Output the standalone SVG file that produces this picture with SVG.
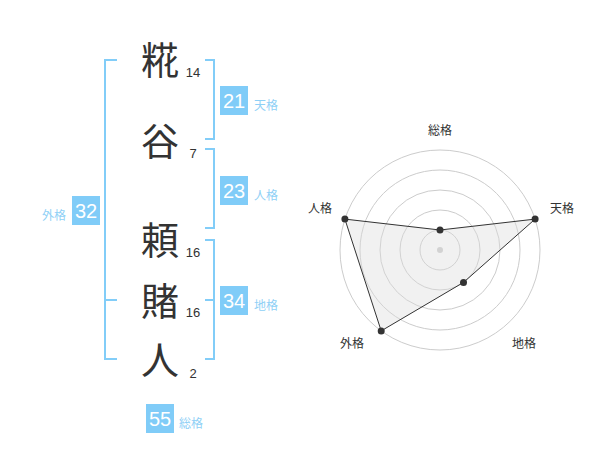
<svg xmlns="http://www.w3.org/2000/svg" width="600" height="470" viewBox="0 0 600 470">
<style>
.kanji{font-family:"Noto Sans CJK JP","Noto Sans CJK SC",sans-serif;font-size:38px;fill:#333;text-anchor:middle}
.num{font-family:"Liberation Sans",Arial,sans-serif;font-size:13px;fill:#333;text-anchor:middle}
.box{fill:#80ccf8}
.boxnum{font-family:"Liberation Sans",Arial,sans-serif;font-size:20px;fill:#fff;text-anchor:middle}
.lbl{font-family:"Noto Sans CJK JP",sans-serif;font-size:12px;fill:#8fd0f6}
.br{fill:none;stroke:#82cdf8;stroke-width:2}
.ring{fill:none;stroke:#cccccc;stroke-width:1}
.rl{font-family:"Noto Sans CJK JP",sans-serif;font-size:12px;fill:#333}
.pt{fill:#333}
</style>
<rect width="600" height="470" fill="#fff"/>
<g id="connectors">
<path class="br" d="M117,60 H105 V359 H117 M105,300 H117"/>
<path class="br" d="M205,60 H214 V139 H205"/>
<path class="br" d="M205,149 H214 V228 H205"/>
<path class="br" d="M205,240 H214 V359 H205 M214,300 H205"/>
</g>
<g id="char1"><text class="kanji" x="160" y="74">糀</text><text class="num" x="193" y="77">14</text></g>
<g id="char2"><text class="kanji" x="160" y="155">谷</text><text class="num" x="193" y="158">7</text></g>
<g id="char3"><text class="kanji" x="160" y="254">頼</text><text class="num" x="193" y="257">16</text></g>
<g id="char4"><text class="kanji" x="160" y="315">賭</text><text class="num" x="193" y="317">16</text></g>
<g id="char5"><text class="kanji" x="160" y="374">人</text><text class="num" x="193" y="378">2</text></g>
<g id="tenkaku"><rect class="box" x="220" y="86" width="28" height="29"/><text class="boxnum" x="234" y="108">21</text><text class="lbl" x="254" y="110">天格</text></g>
<g id="jinkaku"><rect class="box" x="220" y="176" width="28" height="29"/><text class="boxnum" x="234" y="198">23</text><text class="lbl" x="254" y="200">人格</text></g>
<g id="chikaku"><rect class="box" x="220" y="286" width="28" height="29"/><text class="boxnum" x="234" y="308">34</text><text class="lbl" x="254" y="310">地格</text></g>
<g id="gaikaku"><rect class="box" x="72" y="196" width="28" height="29"/><text class="boxnum" x="86" y="218">32</text><text class="lbl" x="66" y="220" text-anchor="end">外格</text></g>
<g id="soukaku"><rect class="box" x="146" y="404" width="28" height="29"/><text class="boxnum" x="160" y="426">55</text><text class="lbl" x="179" y="428">総格</text></g>
<g id="radar">
<circle class="ring" cx="440" cy="250" r="20"/>
<circle class="ring" cx="440" cy="250" r="40"/>
<circle class="ring" cx="440" cy="250" r="60"/>
<circle class="ring" cx="440" cy="250" r="80"/>
<circle class="ring" cx="440" cy="250" r="100"/>
<circle cx="440" cy="250" r="3" fill="#ccc"/>
<polygon points="440,230 535.1,219.1 463.5,282.4 381.2,330.9 344.9,219.1" fill="#dcdcdc" fill-opacity="0.4" stroke="#333" stroke-width="1"/>
<circle class="pt" cx="440" cy="230" r="3.5"/>
<circle class="pt" cx="535.1" cy="219.1" r="3.5"/>
<circle class="pt" cx="463.5" cy="282.4" r="3.5"/>
<circle class="pt" cx="381.2" cy="330.9" r="3.5"/>
<circle class="pt" cx="344.9" cy="219.1" r="3.5"/>
<text class="rl" x="440" y="135" text-anchor="middle">総格</text>
<text class="rl" x="550" y="213">天格</text>
<text class="rl" x="332" y="213" text-anchor="end">人格</text>
<text class="rl" x="352" y="348" text-anchor="middle">外格</text>
<text class="rl" x="524" y="348" text-anchor="middle">地格</text>
</g>
</svg>
